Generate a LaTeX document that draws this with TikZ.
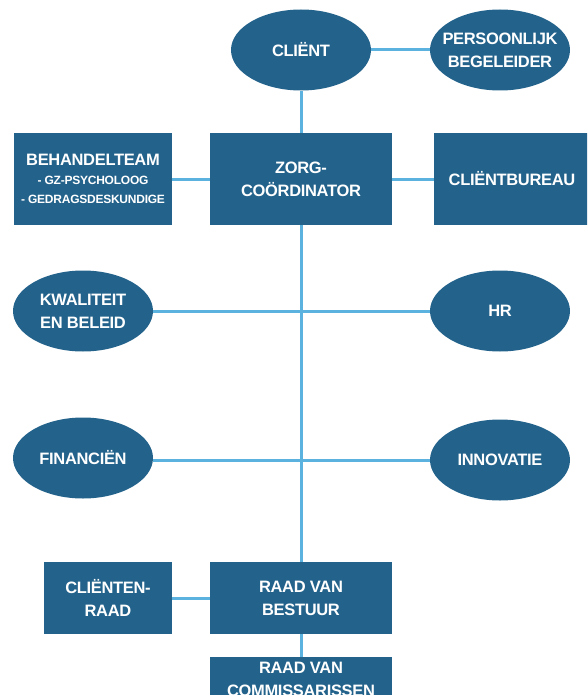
\documentclass[tikz,border=0pt]{standalone}
\usepackage{fontspec}
\setmainfont{Liberation Sans}[LetterSpace=-2]
\usetikzlibrary{shapes.geometric}
\definecolor{boxblue}{RGB}{34,98,139}
\definecolor{lineblue}{RGB}{92,178,222}
\begin{document}
\begin{tikzpicture}[x=1pt,y=-1pt,
  lbl/.style={text=white, font=\bfseries\fontsize{16.5}{23}\selectfont, align=center, inner sep=0pt},
  oval/.style={ellipse, fill=boxblue, minimum width=140pt, minimum height=81pt, inner sep=0pt},
  sq/.style={rectangle, fill=boxblue, inner sep=0pt, text=white, align=center,
             font=\bfseries\fontsize{16.5}{23}\selectfont},
  conn/.style={draw=lineblue, line width=3pt}]
\useasboundingbox (0,0) rectangle (587,695);
\clip (0,0) rectangle (587,695);
% ellipses
\node[oval, label={[lbl]center:CLIËNT}] (client) at (301,50) {};
\node[oval, label={[lbl]center:{PERSOONLIJK\\BEGELEIDER}}] (pb) at (500,50) {};
\node[oval, label={[lbl]center:{KWALITEIT\\EN BELEID}}] (kwal) at (83,311) {};
\node[oval, label={[lbl]center:HR}] (hr) at (500,311) {};
\node[oval, label={[lbl]center:FINANCIËN}] (fin) at (83,458) {};
\node[oval, label={[lbl]center:INNOVATIE}] (innov) at (500,460) {};
% boxes
\node[sq, minimum width=158pt, minimum height=91pt,
      font=\bfseries\fontsize{16.5}{19}\selectfont] (beh) at (93,179)
  {BEHANDELTEAM\\{\fontsize{12}{19}\selectfont - GZ-PSYCHOLOOG}\\{\fontsize{12}{19}\selectfont - GEDRAGSDESKUNDIGE}};
\node[sq, minimum width=182pt, minimum height=91pt] (zorg) at (301,179) {ZORG-\\COÖRDINATOR};
\node[sq, minimum width=156pt, minimum height=91pt] (cb) at (512,179) {CLIËNTBUREAU};
\node[sq, minimum width=128pt, minimum height=72pt] (craad) at (108,598) {CLIËNTEN-\\RAAD};
\node[sq, minimum width=182pt, minimum height=72pt] (rvb) at (301,598) {RAAD VAN\\BESTUUR};
\node[sq, minimum width=182pt, minimum height=90pt] (rvc) at (301,702) {};
\node[lbl] (rvctext) at (301,679) {RAAD VAN\\COMMISSARISSEN};
% connectors
\draw[conn] (client) -- (pb);
\draw[conn] (client) -- (zorg);
\draw[conn] (beh) -- (zorg);
\draw[conn] (zorg) -- (cb);
\draw[conn] (zorg) -- (rvb);
\draw[conn] (kwal) -- (hr);
\draw[conn] (fin.east |- innov.west) -- (innov.west);
\draw[conn] (craad) -- (rvb);
\draw[conn] (rvb) -- (rvc);
\end{tikzpicture}
\end{document}
